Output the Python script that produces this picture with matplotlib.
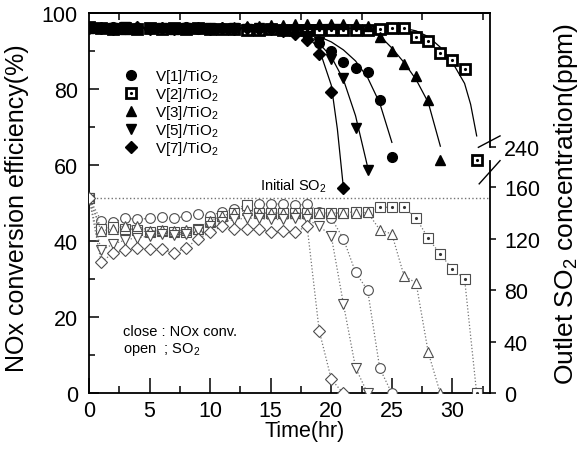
import numpy as np
import matplotlib.pyplot as plt
from matplotlib.lines import Line2D

plt.rcParams["font.family"] = ["Liberation Sans", "DejaVu Sans"]
plt.rcParams["mathtext.fontset"] = "custom"
plt.rcParams["mathtext.rm"] = "Liberation Sans"

# ----- data -----
labels = ["V[1]/TiO$_\\mathregular{2}$", "V[2]/TiO$_\\mathregular{2}$", "V[3]/TiO$_\\mathregular{2}$",
          "V[5]/TiO$_\\mathregular{2}$", "V[7]/TiO$_\\mathregular{2}$"]

# NOx conversion (%), hourly from t = 0
nox_v1 = [96.3, 96.0, 96.2, 95.9, 96.0, 96.1, 95.8, 96.0, 96.2, 95.9,
          96.0, 96.1, 96.0, 95.8, 96.0, 95.9, 95.6, 95.3, 94.5, 92.0,
          90.1, 87.2, 85.5, 84.6, 77.1, 62.1]
nox_v2 = [96.2, 96.0, 95.8, 96.1, 95.9, 96.0, 95.7, 96.0, 95.9, 96.1,
          95.8, 95.9, 95.7, 95.5, 95.6, 95.7, 95.5, 95.6, 95.5, 95.6,
          95.5, 95.6, 95.5, 95.6, 95.8, 96.0, 96.0, 93.6, 92.6, 89.4,
          87.6, 85.3, 61.4]
nox_v3 = [96.0, 96.2, 96.0, 95.9, 96.1, 96.0, 96.2, 95.9, 96.0, 96.1,
          96.0, 96.2, 96.4, 96.5, 96.7, 96.8, 96.9, 97.0, 97.0, 97.1,
          97.1, 97.0, 97.0, 96.6, 93.6, 90.1, 86.6, 83.5, 77.1, 61.4]
nox_v5 = [96.1, 95.9, 96.0, 96.2, 95.8, 96.0, 96.1, 95.9, 96.0, 95.8,
          96.0, 95.9, 96.1, 95.8, 96.0, 95.7, 95.5, 95.0, 94.0, 92.3,
          88.0, 82.9, 69.7, 58.8]
nox_v7 = [96.0, 96.1, 95.9, 96.0, 96.2, 95.9, 96.0, 95.8, 96.1, 96.0,
          95.9, 96.0, 95.8, 96.0, 95.9, 95.7, 95.4, 94.6, 93.0, 89.2,
          79.2, 53.9]

# fitted NOx trend curves (knots)
fit_t_v1 = [0, 15, 16, 17, 18, 19, 20, 21, 22, 23, 24, 25]
fit_v1 = [96, 96, 95.8, 95.4, 94.8, 93.8, 92.4, 90.3, 87.4, 83.0, 76.3, 66.0]
fit_t_v2 = [0, 24, 25, 26, 27, 28, 29, 30, 31, 31.5, 32]
fit_v2 = [96, 96, 96, 96, 95.3, 93.8, 91.0, 87.0, 81.5, 76.0, 67.7]
fit_t_v3 = [0, 20, 21, 22, 23, 24, 25, 26, 27, 28, 29]
fit_v3 = [96, 97, 97, 96.8, 96.0, 94.0, 90.8, 87.0, 82.5, 76.5, 65.0]
fit_t_v5 = [0, 16, 17, 18, 19, 20, 21, 22, 23]
fit_v5 = [96, 96, 95.5, 94.5, 92.0, 88.5, 82.5, 73.0, 59.5]
fit_t_v7 = [0, 16, 17, 18, 19, 20, 20.5, 21]
fit_v7 = [96, 96, 95.5, 94.0, 90.5, 81.0, 69.5, 54.0]

# outlet SO2 (ppm), hourly from t = 0
so2_v1 = [152, 134, 133, 136, 135, 136, 137, 136, 137.5, 139,
          138, 141, 143, 146.5, 147, 147, 147, 146, 147, 141,
          136, 120, 94, 80, 19.5, 0]
so2_v2 = [152, 128, 129, 128, 127, 125, 126, 125, 125, 128,
          133, 138, 140, 146, 140, 140, 140, 140, 140, 140,
          140, 140, 141, 141, 144.5, 144.5, 144.5, 136, 120.5, 108,
          96.5, 89, 0]
so2_v3 = [152, 126, 128, 130, 130, 126, 127, 126, 127, 128,
          134, 138, 140, 142, 140, 140, 140, 140, 140, 140,
          140, 140, 140, 140.5, 127, 123.7, 91.4, 85.7, 32, 0]
so2_v5 = [152, 111, 116, 119, 121, 122, 124, 123, 124, 127,
          130, 133, 135, 136, 136, 135, 135, 136, 135, 130,
          122, 69.4, 20, 0]
so2_v7 = [152, 102, 109, 111, 113, 112, 112, 109, 113, 120,
          125, 130, 128, 128, 127.5, 125.5, 126, 125, 130, 48.7,
          11, 0]
initial_so2 = 152

right_ticks = [0, 40, 80, 120, 160, 191]      # 191 = where the broken axis puts 240
right_labels = ["0", "40", "80", "120", "160", "240"]

# ----- figure -----
fig = plt.figure(figsize=(5.83, 4.64), dpi=100)
ax = fig.add_axes([0.1527, 0.1498, 0.6878, 0.8200])
ax2 = ax.twinx()

nox = [nox_v1, nox_v2, nox_v3, nox_v5, nox_v7]
fits = [(fit_t_v1, fit_v1), (fit_t_v2, fit_v2), (fit_t_v3, fit_v3),
        (fit_t_v5, fit_v5), (fit_t_v7, fit_v7)]
so2 = [so2_v1, so2_v2, so2_v3, so2_v5, so2_v7]
markers = ["o", "s", "^", "v", "D"]
msizes = [7, 6.5, 7.5, 7.5, 6.5]

handles = []
for i in range(5):
    t = np.arange(len(nox[i]))
    ax.plot(fits[i][0], fits[i][1], color="black", lw=0.9, zorder=2)
    if markers[i] == "s":
        h1, = ax.plot(t, nox[i], ls="none", marker="s", ms=msizes[i], mfc="white",
                      mec="black", mew=2.0, zorder=3)
        h2, = ax.plot(t, nox[i], ls="none", marker=".", ms=2.5, color="black", zorder=4)
        handles.append((h1, h2))
    else:
        h, = ax.plot(t, nox[i], ls="none", marker=markers[i], ms=msizes[i],
                     color="black", zorder=3)
        handles.append(h)

    ts = np.arange(len(so2[i]))
    ax2.plot(ts, so2[i], ls=":", lw=0.9, color="0.45", marker=markers[i], ms=msizes[i],
             mfc="white", mec="0.3", mew=0.8, zorder=2)
    if markers[i] == "s":
        ax2.plot(ts[24:], so2[i][24:], ls="none", marker=".", ms=2.5, color="0.2", zorder=3)

ax2.axhline(initial_so2, color="0.45", ls=":", lw=1.0, zorder=1)
ax2.text(14.1, initial_so2 + 3, "Initial SO$_\\mathregular{2}$", fontsize=10.5, va="bottom")

# ----- axes -----
ax.set_xlim(0, 33.1)
ax.set_ylim(0, 100)
ax2.set_ylim(0, 295.2)

ax.set_xticks(np.arange(0, 31, 5))
ax.set_xticks(np.arange(2.5, 33, 5), minor=True)
ax.set_yticks(np.arange(0, 101, 20))
ax.set_yticks(np.arange(10, 100, 20), minor=True)
ax.tick_params(axis="both", which="both", direction="in", labelsize=15.5, width=1.1)
ax.tick_params(axis="x", which="major", length=11, pad=5)
ax.tick_params(axis="x", which="minor", length=5)
ax.tick_params(axis="y", which="major", length=7, pad=8)
ax.tick_params(axis="y", which="minor", length=4)

top = ax.secondary_xaxis("top")
top.set_xticks(np.arange(2.5, 33, 5))
top.tick_params(direction="in", length=5, width=1.1, labeltop=False)
top.spines["top"].set_linewidth(1.3)

ax2.set_yticks(right_ticks)
ax2.set_yticklabels(right_labels)
ax2.tick_params(axis="y", direction="out", length=4, width=1.1, labelsize=15.5, pad=6)

for s in ["left", "bottom", "top"]:
    ax.spines[s].set_linewidth(1.3)
ax.spines["right"].set_visible(False)
ax2.spines["right"].set_visible(False)
for s in ["left", "bottom", "top"]:
    ax2.spines[s].set_visible(False)

# broken right spine with slashes
ax.add_line(Line2D([1, 1], [0, 0.611], transform=ax.transAxes, color="black", lw=1.3, clip_on=False))
ax.add_line(Line2D([1, 1], [0.648, 1], transform=ax.transAxes, color="black", lw=1.3, clip_on=False))
ax.add_line(Line2D([0.971, 1.025], [0.647, 0.677], transform=ax.transAxes, color="black", lw=1.0, clip_on=False))
ax.add_line(Line2D([0.973, 1.025], [0.551, 0.612], transform=ax.transAxes, color="black", lw=1.0, clip_on=False))

# ----- labels -----
ax.text(0.537, -0.098, "Time(hr)", transform=ax.transAxes, fontsize=15.5, ha="center", va="center")
ax.text(-0.18, 0.49, "NOx conversion efficiency(%)", transform=ax.transAxes, fontsize=18,
        rotation=90, ha="center", va="center")
ax.text(1.19, 0.025, "Outlet SO$_\\mathregular{2}$ concentration(ppm)", transform=ax.transAxes,
        fontsize=19, rotation=90, ha="center", va="bottom")

ax.text(0.085, 0.165, "close : NOx conv.", transform=ax.transAxes, fontsize=10.5, va="center")
ax.text(0.085, 0.117, "open  ; SO$_\\mathregular{2}$", transform=ax.transAxes, fontsize=10.5, va="center")

ax.legend(handles, labels, loc="upper left", bbox_to_anchor=(0.085, 0.858), frameon=False,
          fontsize=11, handlelength=1.0, handletextpad=1.1, labelspacing=0.0,
          borderaxespad=0, borderpad=0)

fig.savefig("out.png", dpi=100)
